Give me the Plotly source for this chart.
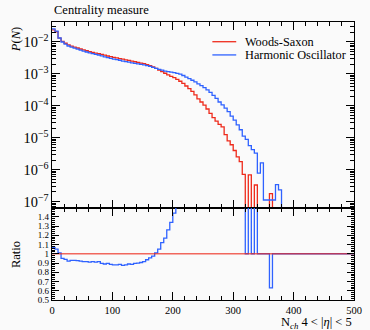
import numpy as np
import plotly.graph_objects as go

# Charged-particle multiplicity N_ch in 4 < |eta| < 5, bins of width 5
bin_edges = np.arange(0, 505, 5)

# log10 P(N) per bin; None marks an empty bin
ws_log10p = [
    -1.62, -1.68, -1.88, -1.98, -2.04, -2.09, -2.13, -2.16, -2.19, -2.22,
    -2.25, -2.275, -2.30, -2.325, -2.35, -2.37, -2.39, -2.415, -2.44, -2.46,
    -2.48, -2.50, -2.52, -2.54, -2.56, -2.58, -2.60, -2.62, -2.64, -2.66,
    -2.68, -2.71, -2.745, -2.785, -2.83, -2.88, -2.93, -2.98, -3.03, -3.075,
    -3.12, -3.17, -3.23, -3.30, -3.38, -3.46, -3.55, -3.66, -3.78, -3.88,
    -3.98, -4.10, -4.24, -4.37, -4.48, -4.58, -4.66, -4.90, -5.10, -5.22,
    -5.40, -5.60, -5.75, -6.15, None, -6.16, None, -6.48, None, None,
    None, None, -6.75, None, None, None, None, None, None, None,
    None, None, None, None, None, None, None, None, None, None,
    None, None, None, None, None, None, None, None, None, None,
]

ho_log10p = [
    -1.591, -1.659, -1.876, -2.002, -2.067, -2.126, -2.162, -2.192, -2.224, -2.256,
    -2.289, -2.314, -2.341, -2.364, -2.391, -2.409, -2.438, -2.466, -2.488, -2.513,
    -2.536, -2.556, -2.573, -2.598, -2.616, -2.631, -2.653, -2.668, -2.686, -2.703,
    -2.719, -2.739, -2.765, -2.796, -2.826, -2.859, -2.881, -2.912, -2.930, -2.948,
    -2.962, -2.985, -3.01, -3.05, -3.10, -3.15, -3.20, -3.25, -3.31, -3.37,
    -3.43, -3.50, -3.58, -3.67, -3.77, -3.88, -3.97, -4.07, -4.18, -4.32,
    -4.45, -4.60, -4.75, -4.95, -5.05, -5.25, -5.37, -5.48, -6.11, -5.79,
    -6.95, -6.95, -6.95, -6.95, -6.47, -6.63, None, None, None, None,
    None, None, None, None, None, None, None, None, None, None,
    None, None, None, None, None, None, None, None, None, None,
]

series_names = ["Woods-Saxon", "Harmonic Oscillator"]
series_colors = ["#ee2a1b", "#2f62ff"]

ratio_tick_values = [0.5, 0.6, 0.7, 0.8, 0.9, 1.0, 1.1, 1.2, 1.3, 1.4]
ratio_tick_labels = ["0.5", "0.6", "0.7", "0.8", "0.9", "1", "1.1", "1.2", "1.3", "1.4"]


def to_prob(logs):
    return np.array([0.0 if v is None else 10.0 ** v for v in logs])


p_ws = to_prob(ws_log10p)
p_ho = to_prob(ho_log10p)

# Ratio to the Woods-Saxon reference (1 where the reference bin is empty)
has_ref = p_ws > 0
safe_ref = np.where(has_ref, p_ws, 1.0)
ratio_ws = np.where(has_ref, p_ws / safe_ref, 1.0)
ratio_ho = np.where(has_ref, p_ho / safe_ref, 1.0)

LOG_FLOOR = 1e-9  # empty bins drop below the visible log range


def steps(vals):
    x = np.append(bin_edges[:-1], bin_edges[-1])
    y = np.append(vals, vals[-1])
    return x, y


fig = go.Figure()

for probs, name, color in zip([p_ws, p_ho], series_names, series_colors):
    x, y = steps(np.where(probs > 0, probs, LOG_FLOOR))
    fig.add_trace(go.Scatter(x=x, y=y, mode="lines", line_shape="hv", name=name,
                             line=dict(color=color, width=1.3),
                             xaxis="x", yaxis="y", showlegend=False))

x, y = steps(ratio_ho)
fig.add_trace(go.Scatter(x=x, y=y, mode="lines", line_shape="hv",
                         line=dict(color=series_colors[1], width=1.3),
                         xaxis="x2", yaxis="y2", showlegend=False))
x, y = steps(ratio_ws)
fig.add_trace(go.Scatter(x=x, y=y, mode="lines", line_shape="hv", opacity=0.7,
                         line=dict(color=series_colors[0], width=1.3),
                         xaxis="x2", yaxis="y2", showlegend=False))

axis_common = dict(showline=True, linecolor="black", linewidth=1.2, mirror="allticks",
                   ticks="inside", tickcolor="black", showgrid=False, zeroline=False)
split = 0.331

fig.update_layout(
    width=370, height=330,
    margin=dict(l=52, r=8, t=22, b=30),
    paper_bgcolor="#fafafa", plot_bgcolor="#fafafa",
    font=dict(family="Liberation Serif", color="black", size=11),
    showlegend=False,
    xaxis=dict(domain=[0, 1], anchor="y", range=[0, 500], dtick=100, tick0=0,
               ticklen=8, showticklabels=False,
               minor=dict(dtick=20, tick0=0, ticks="inside", ticklen=4, tickcolor="black"),
               **axis_common),
    yaxis=dict(domain=[split, 1], anchor="x", type="log", range=[-7.2, -1.375],
               dtick=1, exponentformat="power", ticklen=8,
               tickfont=dict(size=11.5),
               minor=dict(dtick="D1", ticks="inside", ticklen=4, tickcolor="black"),
               **axis_common),
    xaxis2=dict(domain=[0, 1], anchor="y2", range=[0, 500], dtick=100, tick0=0,
                ticklen=8, tickfont=dict(size=10.5), ticklabeloverflow="allow",
                minor=dict(dtick=20, tick0=0, ticks="inside", ticklen=4, tickcolor="black"),
                **axis_common),
    yaxis2=dict(domain=[0, split], anchor="x2", range=[0.5, 1.495],
                tickmode="array", tickvals=ratio_tick_values, ticktext=ratio_tick_labels,
                ticklen=7, tickfont=dict(size=9),
                minor=dict(dtick=0.02, tick0=0.5, ticks="inside", ticklen=3, tickcolor="black"),
                **axis_common),
)

annotations = [
    dict(text="Centrality measure", xref="paper", yref="paper", x=0, y=1.043,
         xanchor="left", yanchor="middle", showarrow=False, font=dict(size=12.5)),
    dict(text="<i>P</i>(<i>N</i>)", xref="paper", yref="paper", x=-0.119, y=0.935,
         textangle=-90, xanchor="center", yanchor="middle", showarrow=False,
         font=dict(size=12.5)),
    dict(text="Ratio", xref="paper", yref="paper", x=-0.119, y=0.162,
         textangle=-90, xanchor="center", yanchor="middle", showarrow=False,
         font=dict(size=12.5)),
    dict(text="N<sub><i>ch</i></sub> 4 &lt; |<i>η</i>| &lt; 5", xref="paper", yref="paper",
         x=1, y=-0.083, xanchor="right", yanchor="middle", showarrow=False,
         font=dict(size=12.5)),
]

# Legend drawn as sample lines with labels in the main panel
legend_rows = [0.894, 0.823]
for name, color, yrow in zip(series_names, series_colors, legend_rows):
    fig.add_shape(type="line", xref="x domain", yref="y domain",
                  x0=0.531, x1=0.61, y0=yrow, y1=yrow,
                  line=dict(color=color, width=1.3))
    annotations.append(dict(text=name, xref="x domain", yref="y domain",
                            x=0.633, y=yrow, xanchor="left", yanchor="middle",
                            showarrow=False, font=dict(size=12.3)))

fig.update_layout(annotations=annotations)

fig.write_html("out.html")
